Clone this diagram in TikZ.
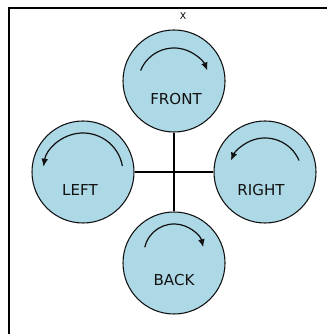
\documentclass[tikz,border=0pt]{standalone}
\usepackage{fontspec}
\setmainfont{DejaVu Sans}
\usetikzlibrary{arrows.meta}
\definecolor{padBlue}{HTML}{ADD8E6}
\definecolor{padInk}{HTML}{111111}

\begin{document}
\begin{tikzpicture}[x=0.75pt,y=0.75pt,
  disc/.style={circle,draw=padInk,fill=padBlue,line width=0.8pt,
    minimum size=102*0.75pt,inner sep=0pt},
  tag/.style={font=\fontsize{11.3}{13}\selectfont,text=padInk},
  spin/.style={-{Latex[length=6pt,width=5pt]},line width=0.9pt,draw=padInk},
  arm/.style={line width=1.6pt,draw=black}]
\useasboundingbox (0,0) rectangle (326,334);
\fill[white] (0,0) rectangle (326,334);
% frame of the plot area
\draw[line width=1.1pt] (9,-10) -- (9,326) -- (340,326);
\node[font=\fontsize{7}{8}\selectfont] (axis) at (183,318) {X};
% the four rotors
\node[disc] (front) at (174,253) {};
\node[disc] (back) at (174,71) {};
\node[disc] (left) at (83,162) {};
\node[disc] (right) at (265,162) {};
% arms
\draw[arm] (front.south) -- (back.north);
\draw[arm] (left.east) -- (right.west);
% labels
\node[tag] (frontlabel) at (176,235) {FRONT};
\node[tag] (backlabel) at (174,54) {BACK};
\node[tag] (leftlabel) at (80,144) {LEFT};
\node[tag] (rightlabel) at (261,144) {RIGHT};
% spin directions
\draw[spin] (174,250) ++(158:36) arc[start angle=158,end angle=22,radius=36];
\draw[spin] (174,80) ++(167:30) arc[start angle=167,end angle=13,radius=30];
\draw[spin] (83,161) ++(10:40) arc[start angle=10,end angle=171,radius=40];
\draw[spin] (265,159) ++(23:37) arc[start angle=23,end angle=157,radius=37];
\end{tikzpicture}
\end{document}
